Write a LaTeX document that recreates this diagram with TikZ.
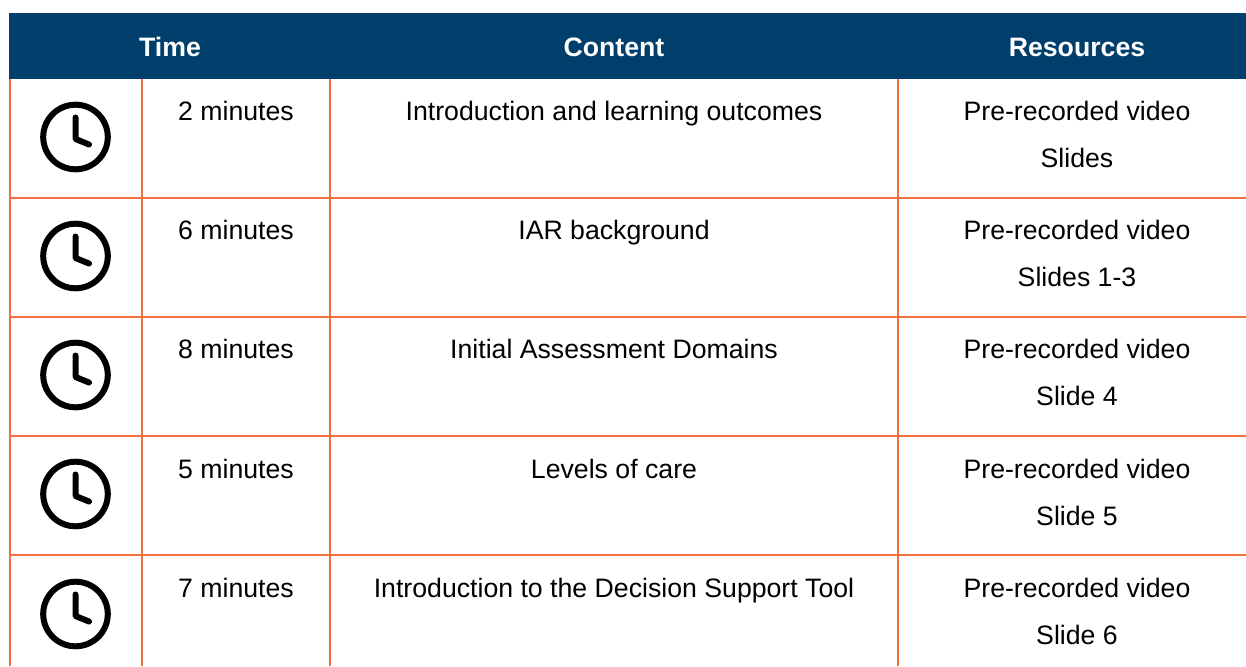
\documentclass[tikz,border=0pt]{standalone}
\usepackage{fontspec}
\setmainfont{Liberation Sans}
\definecolor{headblue}{HTML}{003E6B}
\definecolor{gridorange}{HTML}{F4703F}
\tikzset{
  x=1pt,y=-1pt,
  grid/.style={draw=gridorange,line width=1.7pt},
  headtext/.style={text=white,font=\fontsize{26.67}{32}\selectfont\bfseries,anchor=base,inner sep=0pt},
  celltext/.style={text=black,font=\fontsize{26.67}{32}\selectfont,anchor=base,inner sep=0pt},
  clockicon/.pic={
    \draw[black,line width=6pt] (0,0) circle[radius=32.3];
    \draw[black,line width=6pt,line cap=round,line join=round] (0,-19.5) -- (0,2) -- (13.5,7.5);
  }
}
\begin{document}
\begin{tikzpicture}
\useasboundingbox (0,0) rectangle (1246,666);
\fill[headblue] (9,13) rectangle (1246,79);
\node[headtext] (h1) at (170,56.6) {Time};
\node[headtext] (h2) at (614,56.6) {Content};
\node[headtext] (h3) at (1077,56.6) {Resources};
% grid
\foreach \x in {10,142,330,898} \draw[grid] (\x,79) -- (\x,666);
\foreach \y in {198,317,436,555} \draw[grid] (9,\y) -- (1246,\y);
% clocks
\foreach \y in {137,256,375,494,614} \pic at (75.5,\y) {clockicon};
% row 1
\node[celltext] (t1) at (236,120.6) {2 minutes};
\node[celltext] (c1) at (614,120.6) {Introduction and learning outcomes};
\node[celltext] (r1a) at (1077,120.6) {Pre-recorded video};
\node[celltext] (r1b) at (1077,167) {Slides};
% row 2
\node[celltext] (t2) at (236,239) {6 minutes};
\node[celltext] (c2) at (614,239) {IAR background};
\node[celltext] (r2a) at (1077,239) {Pre-recorded video};
\node[celltext] (r2b) at (1077,286) {Slides 1-3};
% row 3
\node[celltext] (t3) at (236,358) {8 minutes};
\node[celltext] (c3) at (614,358) {Initial Assessment Domains};
\node[celltext] (r3a) at (1077,358) {Pre-recorded video};
\node[celltext] (r3b) at (1077,405) {Slide 4};
% row 4
\node[celltext] (t4) at (236,478) {5 minutes};
\node[celltext] (c4) at (614,478) {Levels of care};
\node[celltext] (r4a) at (1077,478) {Pre-recorded video};
\node[celltext] (r4b) at (1077,525) {Slide 5};
% row 5
\node[celltext] (t5) at (236,597) {7 minutes};
\node[celltext] (c5) at (614,597) {Introduction to the Decision Support Tool};
\node[celltext] (r5a) at (1077,597) {Pre-recorded video};
\node[celltext] (r5b) at (1077,644) {Slide 6};
\end{tikzpicture}
\end{document}
